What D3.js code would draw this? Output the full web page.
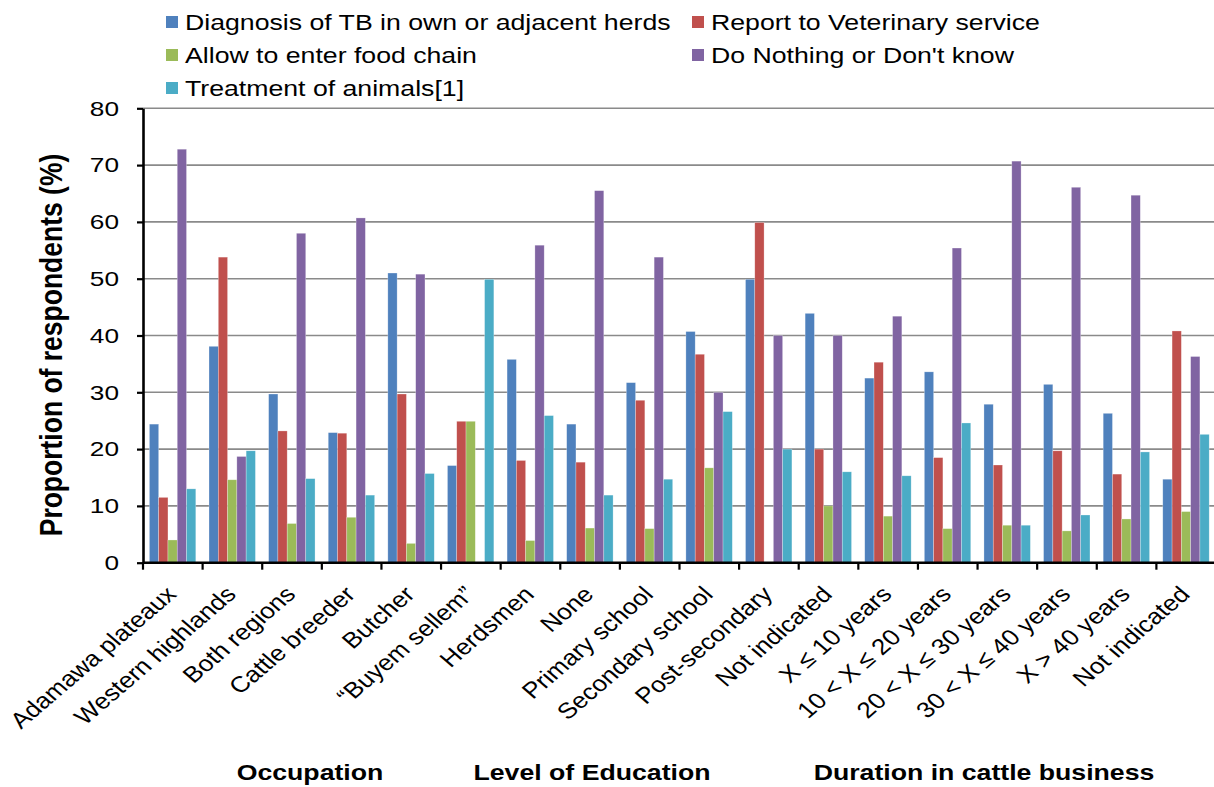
<!DOCTYPE html>
<html><head><meta charset="utf-8">
<script src="https://cdn.jsdelivr.net/npm/d3@7"></script>
<style>body{margin:0;background:#fff;} text{font-family:Arial,"Liberation Sans",sans-serif;}</style>
</head><body>
<svg id="chart" width="1214" height="787"></svg>
<script>
const categories = ["Adamawa plateaux","Western highlands","Both regions","Cattle breeder","Butcher","\u201cBuyem sellem\u201d","Herdsmen","None","Primary school","Secondary school","Post-secondary","Not indicated","X \u2264 10 years","10 < X \u2264 20 years","20 < X \u2264 30 years","30 < X \u2264 40 years","X > 40 years","Not indicated"];
const seriesNames = ["Diagnosis of TB in own or adjacent herds","Report to Veterinary service","Allow to enter food chain","Do Nothing or Don't know","Treatment of animals[1]"];
const diagnosis = [24.4,38.1,29.7,22.9,51.0,17.1,35.8,24.4,31.7,40.7,49.9,43.9,32.5,33.6,27.9,31.4,26.3,14.7];
const report    = [11.5,53.8,23.2,22.8,29.7,24.9,18.0,17.7,28.6,36.7,59.9,20.0,35.3,18.5,17.2,19.7,15.6,40.8];
const foodChain = [4.0,14.6,6.9,8.0,3.4,24.9,3.9,6.1,6.0,16.7,0,10.0,8.2,6.0,6.6,5.6,7.7,9.0];
const nothing   = [72.8,18.7,58.0,60.7,50.8,0,55.9,65.5,53.8,30.0,40.0,40.0,43.4,55.4,70.7,66.1,64.7,36.3];
const treatment = [13.0,19.7,14.8,11.9,15.7,49.9,25.9,11.9,14.7,26.6,20.0,16.0,15.3,24.6,6.6,8.4,19.5,22.6];
const yTicks = [0,10,20,30,40,50,60,70,80];
const groupTitles = ["Occupation","Level of Education","Duration in cattle business"];
const colors = ["#4F81BD","#C0504D","#9BBB59","#8064A2","#4BACC6"];
const seriesValues = [diagnosis,report,foodChain,nothing,treatment];

const SX = 1.17; // horizontal stretch of all text in the reference
const svg = d3.select("#chart");
const pLeft = 143, pRight = 1216, pTop = 108.3, pBottom = 562.7;
const x0 = d3.scaleBand().domain(d3.range(categories.length)).range([pLeft,pRight]).padding(0);
const bw = x0.bandwidth();
const x1 = d3.scaleBand().domain(d3.range(5)).range([6.4, bw-6.8]).padding(0);
const y = d3.scaleLinear().domain([0,80]).range([pBottom,pTop]);

// gridlines
svg.append("g").selectAll("line").data(yTicks.filter(d=>d>0)).join("line")
  .attr("x1",pLeft).attr("x2",1214).attr("y1",d=>y(d)).attr("y2",d=>y(d))
  .attr("stroke","#8a8a8a").attr("stroke-width",1.6);

// bars
const g = svg.append("g");
categories.forEach((c,i)=>{
  seriesValues.forEach((s,k)=>{
    const v = s[i];
    if(v<=0) return;
    g.append("rect").attr("x",x0(i)+x1(k)).attr("width",x1.bandwidth())
     .attr("y",y(v)).attr("height",y(0)-y(v)).attr("fill",colors[k])
     .attr("stroke","rgba(255,255,255,0.45)").attr("stroke-width",0.6);
  });
});

// y axis
const yAxis = d3.axisLeft(y).tickValues(yTicks).tickSize(6).tickSizeOuter(0);
const ya = svg.append("g").attr("transform",`translate(${pLeft},0)`).call(yAxis);
ya.select(".domain").attr("stroke","#000").attr("stroke-width",2.6);
ya.selectAll(".tick line").attr("stroke","#000").attr("stroke-width",2.2);
ya.selectAll(".tick text").attr("x",null).attr("dy",null)
  .attr("transform",`translate(-24,0) scale(${SX*1.15},1)`)
  .attr("dy","0.35em").attr("font-size",19.5).attr("fill","#000").attr("font-family","Arial, Liberation Sans");

// x axis
const xa = svg.append("g").attr("transform",`translate(0,${pBottom})`);
xa.append("line").attr("x1",pLeft).attr("x2",1214).attr("stroke","#000").attr("stroke-width",2.6);
xa.selectAll(".tk").data(d3.range(categories.length+1)).join("line")
  .attr("x1",d=>pLeft+d*bw).attr("x2",d=>pLeft+d*bw).attr("y1",0).attr("y2",7)
  .attr("stroke","#000").attr("stroke-width",2.2);
xa.selectAll(".lbl").data(categories).join("text")
  .attr("transform",(d,i)=>`translate(${x0(i)+bw/2+5},${33}) scale(${SX},1) rotate(-45)`)
  .attr("text-anchor","end").attr("font-size",22.3).attr("fill","#000")
  .text(d=>d);

// group titles
const titleX = [310, 592, 984];
svg.selectAll(".gt").data(groupTitles).join("text")
  .attr("transform",(d,i)=>`translate(${titleX[i]},780) scale(${SX},1)`)
  .attr("text-anchor","middle")
  .attr("font-size",22.8).attr("font-weight","bold").attr("fill","#000").text(d=>d);

// y label
svg.append("text").attr("transform",`translate(62,345) scale(${SX},1) rotate(-90)`)
  .attr("text-anchor","middle").attr("font-size",26.5).attr("font-weight","bold").text("Proportion of respondents (%)");

// legend
const legPos = [[166,22],[692,22],[166,55],[692,55],[166,88]];
const lg = svg.append("g");
seriesNames.forEach((n,k)=>{
  const [lx,ly] = legPos[k];
  lg.append("rect").attr("x",lx).attr("y",ly-6).attr("width",12).attr("height",12).attr("fill",colors[k]);
  lg.append("text").attr("transform",`translate(${lx+19},${ly}) scale(${SX},1)`)
    .attr("dy","0.36em").attr("font-size",22.8).attr("fill","#000").text(n);
});
</script>
</body></html>
